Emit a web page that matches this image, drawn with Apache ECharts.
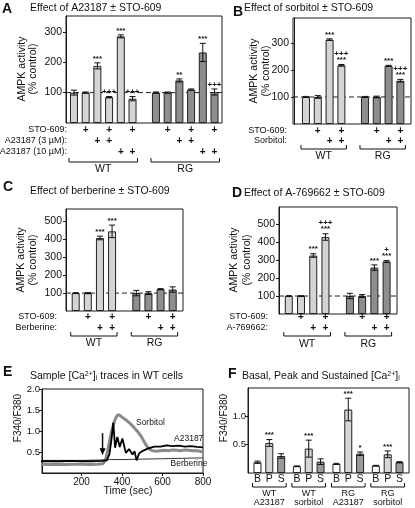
<!DOCTYPE html>
<html><head><meta charset="utf-8">
<script src="https://cdn.jsdelivr.net/npm/echarts@6/dist/echarts.min.js"></script>
<style>html,body{margin:0;padding:0;background:#fff}#c{width:415px;height:508px}</style>
</head><body><div id="c"></div>
<script>
// ---------- DATA ----------
// Panel A: Effect of A23187 ± STO-609
const aPos  = [1,2,3,4,5,6, 8,9,10,11,12,13];
const aGrp  = ['WT','WT','WT','WT','WT','WT','RG','RG','RG','RG','RG','RG'];
const aVals = [100,100,188,85,285,80, 100,100,140,110,232,102];
const aErr  = [8,2,10,2,5,7, 2,2,5,2,30,10];
const aSig  = ['','','***','+++','***','+++', '','','**','','***','+++'];
const aRowNames = ['STO-609:','A23187 (3 µM):','A23187 (10 µM):'];
const aSto  = [0,1,0,1,0,1, 0,1,0,1,0,1];
const aA3   = [0,0,1,1,0,0, 0,0,1,1,0,0];
const aA10  = [0,0,0,0,1,1, 0,0,0,0,1,1];
const aTicks = [100,200,300];

// Panel B: Effect of sorbitol ± STO-609
const bPos  = [1,2,3,4, 6,7,8,9];
const bGrp  = ['WT','WT','WT','WT','RG','RG','RG','RG'];
const bVals = [100,100,312,217, 100,100,215,160];
const bErr  = [2,5,3,3, 2,3,2,5];
const bSig  = ['','','***','+++\n***', '','','***','+++\n***'];
const bRowNames = ['STO-609:','Sorbitol:'];
const bSto  = [0,1,0,1, 0,1,0,1];
const bSorb = [0,0,1,1, 0,0,1,1];
const bTicks = [100,200,300];

// Panel C: Effect of berberine ± STO-609
const cPos  = [1,2,3,4, 6,7,8,9];
const cGrp  = ['WT','WT','WT','WT','RG','RG','RG','RG'];
const cVals = [100,100,408,445, 100,100,122,120];
const cErr  = [2,3,10,35, 15,8,3,15];
const cSig  = ['','','***','***', '','','',''];
const cRowNames = ['STO-609:','Berberine:'];
const cSto  = [0,1,0,1, 0,1,0,1];
const cBerb = [0,0,1,1, 0,0,1,1];
const cTicks = [100,200,300,400,500];

// Panel D: Effect of A-769662 ± STO-609
const dPos  = [1,2,3,4, 6,7,8,9];
const dGrp  = ['WT','WT','WT','WT','RG','RG','RG','RG'];
const dVals = [100,100,325,428, 100,100,258,292];
const dErr  = [1,2,10,18, 15,8,15,5];
const dSig  = ['','','***','+++\n***', '','','***','+\n***'];
const dRowNames = ['STO-609:','A-769662:'];
const dSto  = [0,1,0,1, 0,1,0,1];
const dA76  = [0,0,1,1, 0,0,1,1];
const dTicks = [100,200,300,400,500];

// Panel E: sample [Ca2+]i traces (time sec, F340/F380)
const eSorbitol = [[0,0.21],[40,0.2],[80,0.21],[120,0.2],[160,0.21],[200,0.21],[240,0.2],[280,0.21],[305,0.22],[318,0.3],[328,0.5],[338,0.75],[348,0.98],[358,1.16],[368,1.3],[378,1.38],[388,1.38],[400,1.33],[420,1.26],[440,1.18],[460,1.08],[480,0.97],[495,0.87],[510,0.74],[522,0.64],[535,0.57],[550,0.53],[570,0.52],[590,0.53],[610,0.54],[630,0.53],[650,0.55],[670,0.54],[690,0.53],[710,0.55],[730,0.54],[750,0.53],[770,0.53],[790,0.51],[800,0.51]];
const eA23187 = [[0,0.28],[50,0.28],[100,0.28],[150,0.29],[200,0.28],[250,0.28],[300,0.29],[325,0.3],[338,0.45],[348,0.8],[357,1.2],[366,0.6],[377,0.86],[389,0.62],[402,0.82],[419,0.48],[435,0.57],[452,0.44],[462,0.52],[472,0.3],[485,0.47],[500,0.52],[527,0.58],[560,0.63],[590,0.63],[620,0.66],[650,0.64],[680,0.65],[710,0.63],[740,0.64],[770,0.62],[800,0.61]];
const eBerberine = [[0,0.3],[100,0.3],[200,0.3],[300,0.31],[350,0.32],[400,0.32],[500,0.33],[600,0.34],[700,0.35],[800,0.36]];
const eLabels = ['Sorbitol','A23187','Berberine'];

// Panel F: basal, peak, sustained [Ca2+]i
const fPos  = [1,2,3, 4.33,5.33,6.33, 7.67,8.67,9.67, 11,12,13];
const fKind = ['B','P','S','B','P','S','B','P','S','B','P','S'];
const fVals = [0.19,0.53,0.30, 0.12,0.43,0.20, 0.16,1.12,0.34, 0.13,0.33,0.19];
const fErr  = [0.02,0.06,0.04, 0.005,0.15,0.05, 0.01,0.2,0.03, 0.005,0.06,0.01];
const fSig  = ['','***','', '','***','', '','***','*', '','***',''];
const fGroups = [['WT','A23187'],['WT','sorbitol'],['RG','A23187'],['RG','sorbitol']];
const fTicks = [0.5,1.0];

// ---------- STYLE ----------
const FONT = "'Liberation Sans', Arial, Helvetica, sans-serif";
const WT_COL = '#d4d4d4', RG_COL = '#8e8e8e';
const F_COL = {B:'#ffffff', P:'#d6d6d6', S:'#9a9a9a'};
const INK = '#1a1a1a';

const chart = echarts.init(document.getElementById('c'), null, {renderer:'canvas'});
const grids = [], xAxes = [], yAxes = [], series = [];

function yAxisCfg(idx, max, ticks, fmt, fs, margin) {
  return {gridIndex:idx, type:'value', min:0, max:max,
    axisLine:{show:true, lineStyle:{color:INK, width:1}},
    axisTick:{show:true, length:3, inside:false, customValues:ticks, lineStyle:{color:INK}},
    axisLabel:{show:true, customValues:ticks, fontSize:fs||10.5, fontFamily:FONT, color:'#111', margin:margin==null?4:margin, formatter: fmt || (v=>String(v))},
    splitLine:{show:false}};
}
function xHidden(idx, min, max) {
  return {gridIndex:idx, type:'value', min:min, max:max, axisLine:{show:false}, axisTick:{show:false}, axisLabel:{show:false}, splitLine:{show:false}};
}
function errSeries(idx, pos, vals, errs, sig, fs) {
  return {type:'custom', xAxisIndex:idx, yAxisIndex:idx, z:5, clip:false, silent:true,
    data: pos.map((p,i)=>[p, vals[i], errs[i], i]),
    renderItem: (params, api) => {
      const x = api.value(0), y = api.value(1), e = api.value(2), i = api.value(3);
      const top = api.coord([x, y+e]), bot = api.coord([x, y-e]);
      const ch = [];
      if (e > 0) {
        const st = {stroke:'#111', lineWidth:1};
        ch.push({type:'line', shape:{x1:top[0], y1:top[1], x2:bot[0], y2:bot[1]}, style:st});
        ch.push({type:'line', shape:{x1:top[0]-3, y1:top[1], x2:top[0]+3, y2:top[1]}, style:st});
        ch.push({type:'line', shape:{x1:bot[0]-3, y1:bot[1], x2:bot[0]+3, y2:bot[1]}, style:st});
      }
      if (sig[i]) {
        ch.push({type:'text', x:top[0], y:top[1]-1.5, style:{text:sig[i], textAlign:'center', textVerticalAlign:'bottom', fontSize:fs||8, fontWeight:'bold', fontFamily:FONT, fill:'#111', lineHeight:6}});
      }
      return {type:'group', children:ch};
    }};
}
function addBarPanel(idx, g, xr, ymax, ticks, pos, vals, errs, sig, colors) {
  grids.push({left:g[0], top:g[1], width:g[2], height:g[3], show:true, borderColor:INK, borderWidth:1, backgroundColor:'transparent'});
  xAxes.push(xHidden(idx, xr[0], xr[1]));
  yAxes.push(yAxisCfg(idx, ymax, ticks, null));
  // dashed control (100 %) reference line, drawn beneath the bars
  series.push({type:'line', xAxisIndex:idx, yAxisIndex:idx, silent:true, showSymbol:false, z:1,
    data:[[xr[0],100],[xr[1],100]], lineStyle:{color:'#222', type:[5,3], width:1}});
  series.push({type:'bar', xAxisIndex:idx, yAxisIndex:idx, barWidth:8, silent:true,
    data: pos.map((p,i)=>({value:[p, vals[i]], itemStyle:{color:colors[i]}})),
    itemStyle:{borderColor:'#222', borderWidth:1}, z:2});
  series.push(errSeries(idx, pos, vals, errs, sig));
}
const col = grp => grp.map(g => g === 'WT' ? WT_COL : RG_COL);

// Panel A (0)
addBarPanel(0, [66,16,156,107], [0.32,13.64], 352, aTicks, aPos, aVals, aErr, aSig, col(aGrp));
// Panel B (1)
addBarPanel(1, [293,18,118,106], [-0.1,9.9], 392, bTicks, bPos, bVals, bErr, bSig, col(bGrp));
// Panel C (2)
addBarPanel(2, [66,209,117,102], [0.2,9.85], 570, cTicks, cPos, cVals, cErr, cSig, col(cGrp));
// Panel D (3)
addBarPanel(3, [279,207,118,107], [0.2,9.85], 595, dTicks, dPos, dVals, dErr, dSig, col(dGrp));

// Panel E (4)
grids.push({left:42, top:389, width:161, height:84, show:true, borderColor:INK, borderWidth:1, backgroundColor:'transparent'});
xAxes.push({gridIndex:4, type:'value', min:5, max:800,
  axisLine:{show:true, lineStyle:{color:INK}},
  axisTick:{show:true, length:3, customValues:[200,400,600,800], lineStyle:{color:INK}},
  axisLabel:{customValues:[200,400,600,800], fontSize:10, fontFamily:FONT, color:'#111', margin:4},
  splitLine:{show:false}});
yAxes.push(yAxisCfg(4, 2.0, [0.5,1.0,1.5,2.0], v=>v.toFixed(1), 9.5, 2));
series.push({type:'line', xAxisIndex:4, yAxisIndex:4, data:eSorbitol, showSymbol:false, silent:true, lineStyle:{color:'#8a8a8a', width:3}, z:2});
series.push({type:'line', xAxisIndex:4, yAxisIndex:4, data:eBerberine, showSymbol:false, silent:true, lineStyle:{color:'#333', width:1}, z:3});
series.push({type:'line', xAxisIndex:4, yAxisIndex:4, data:eA23187, showSymbol:false, silent:true, lineStyle:{color:'#000', width:1.8}, z:4});

// Panel F (5)
grids.push({left:248, top:388, width:161, height:85, show:true, borderColor:INK, borderWidth:1, backgroundColor:'transparent'});
xAxes.push(xHidden(5, 0.2, 13.8));
yAxes.push(yAxisCfg(5, 1.5, fTicks, v=>v.toFixed(1), 9.5, 2));
series.push({type:'bar', xAxisIndex:5, yAxisIndex:5, barWidth:8, silent:true,
  data: fPos.map((p,i)=>({value:[p, fVals[i]], itemStyle:{color:F_COL[fKind[i]]}})),
  itemStyle:{borderColor:'#222', borderWidth:1}, z:2});
series.push(errSeries(5, fPos, fVals, fErr, fSig));

chart.setOption({animation:false, backgroundColor:'#fff', grid:grids, xAxis:xAxes, yAxis:yAxes, series:series});

// ---------- TEXT / ANNOTATIONS via library coordinates ----------
const G = [];
const px = (idx, x, y) => chart.convertToPixel({gridIndex:idx}, [x, y]);
function txt(x, y, s, o) {
  o = o || {};
  G.push({type:'text', x:x, y:y, rotation:o.rot||0, z:10, silent:true,
    style:{text:s, fontFamily:FONT, fontSize:o.fs||10, fontWeight:o.fw||'normal', fill:o.fill||'#111',
      textAlign:o.align||'left', textVerticalAlign:o.va||'middle', rich:o.rich, lineHeight:o.lh}});
}
function line(pts, w) {
  G.push({type:'polyline', z:10, silent:true, shape:{points:pts}, style:{stroke:'#111', lineWidth:w||1, fill:null}});
}
function plusRows(idx, pos, rows, names, ys, labelRight, fs) {
  rows.forEach((r, k) => {
    txt(labelRight, ys[k], names[k], {align:'right', fs:fs||9});
    r.forEach((on, i) => { if (on) { const p = px(idx, pos[i], 0); txt(p[0], ys[k], '+', {align:'center', fs:10, fw:'bold'}); } });
  });
}
function brackets(idx, pos, grp, yb, ylab, fs) {
  ['WT','RG'].forEach(gname => {
    const ps = pos.filter((p,i)=>grp[i]===gname);
    const l = px(idx, ps[0], 0)[0] - 5, r = px(idx, ps[ps.length-1], 0)[0] + 5;
    line([[l, yb-4],[l, yb],[r, yb],[r, yb-4]]);
    txt((l+r)/2, ylab, gname, {align:'center', fs:fs||10.5});
  });
}
function yName(x1, x2, yc, l1, l2, fs) {
  txt(x1, yc, l1, {rot:Math.PI/2, align:'center', fs:fs||10.5});
  if (l2) txt(x2, yc, l2, {rot:Math.PI/2, align:'center', fs:fs||10.5});
}
const RICH = {sup:{fontSize:7, verticalAlign:'top', fontFamily:FONT}, sub:{fontSize:7, verticalAlign:'bottom', fontFamily:FONT}};

// Titles
txt(2, 9, 'A', {fs:14, fw:'bold'});
txt(30, 8, 'Effect of A23187 ± STO-609', {fs:10.5});
txt(233, 12, 'B', {fs:14, fw:'bold'});
txt(244, 8, 'Effect of sorbitol ± STO-609', {fs:10.5});
txt(3, 187, 'C', {fs:14, fw:'bold'});
txt(30, 191, 'Effect of berberine ± STO-609', {fs:10.5});
txt(232, 193, 'D', {fs:14, fw:'bold'});
txt(244, 193, 'Effect of A-769662 ± STO-609', {fs:10.5});
txt(3, 372, 'E', {fs:14, fw:'bold'});
txt(30, 376, 'Sample [Ca{sup|2+}]{sub|i} traces in WT cells', {fs:10.5, rich:RICH});
txt(228, 374, 'F', {fs:14, fw:'bold'});
txt(242, 376, 'Basal, Peak and Sustained [Ca{sup|2+}]{sub|i}', {fs:10.5, rich:RICH});

// Y axis names
yName(22, 33, 69, 'AMPK activity', '(% control)');
yName(254, 266, 71, 'AMPK activity', '(% control)');
yName(21, 33, 260, 'AMPK activity', '(% control)');
yName(234, 247, 260, 'AMPK activity', '(% control)');
yName(18, 0, 418, 'F340/F380', null, 10);
yName(224, 0, 418, 'F340/F380', null, 10);
txt(128, 491, 'Time (sec)', {align:'center', fs:10.5});

// Treatment rows
plusRows(0, aPos, [aSto, aA3, aA10], aRowNames, [130, 141, 152], 67);
brackets(0, aPos, aGrp, 162, 169.5);
plusRows(1, bPos, [bSto, bSorb], bRowNames, [131, 141], 287);
brackets(1, bPos, bGrp, 149, 156.5);
plusRows(2, cPos, [cSto, cBerb], cRowNames, [317, 328], 57);
brackets(2, cPos, cGrp, 336, 343);
plusRows(3, dPos, [dSto, dA76], dRowNames, [317, 328], 268);
brackets(3, dPos, dGrp, 336, 344);

// Panel E labels and arrow
const eLabPos = [[469,1.21],[657,0.82],[640,0.22]];
eLabels.forEach((s,i) => { const p = px(4, eLabPos[i][0], eLabPos[i][1]); txt(p[0], p[1], s, {fs:8.5}); });
const aTop = px(4, 304, 0.95), aBot = px(4, 304, 0.42);
line([aTop, [aBot[0], aBot[1]-3]], 1.5);
G.push({type:'polygon', z:10, silent:true, shape:{points:[[aBot[0]-3, aBot[1]-7],[aBot[0]+3, aBot[1]-7],[aBot[0], aBot[1]]]}, style:{fill:'#000'}});

// Panel F category labels
fPos.forEach((p,i) => { const q = px(5, p, 0); txt(q[0], 479, fKind[i], {align:'center', fs:10.5}); });
fGroups.forEach((gname, k) => {
  const l = px(5, fPos[k*3], 0)[0] - 5, r = px(5, fPos[k*3+2], 0)[0] + 5;
  line([[l, 483],[l, 487],[r, 487],[r, 483]]);
  txt((l+r)/2, 493.5, gname[0], {align:'center', fs:9});
  txt((l+r)/2, 503, gname[1], {align:'center', fs:9});
});

chart.setOption({graphic:G});
</script></body></html>
